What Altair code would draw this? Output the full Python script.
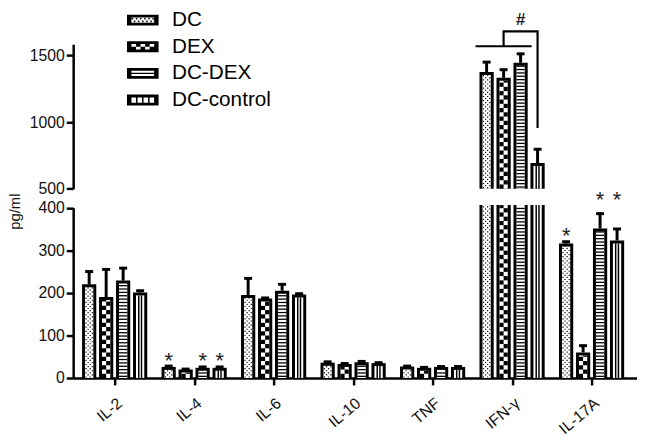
import altair as alt
import pandas as pd

# ---------------- data ----------------
categories = ["IL-2", "IL-4", "IL-6", "IL-10", "TNF", "IFN-γ", "IL-17A"]
groups = ["DC", "DEX", "DC-DEX", "DC-control"]

# mean values (pg/ml), category order
dc_mean = [220, 26, 195, 36, 27, 1376, 316]
dex_mean = [190, 20, 187, 33, 24, 1332, 60]
dcdex_mean = [229, 24, 205, 37, 26, 1445, 351]
ctrl_mean = [201, 24, 196, 35, 26, 693, 323]

# top of the error bars (mean + SD)
dc_top = [250, 28, 234, 38, 28, 1450, 320]
dex_top = [255, 21, 188, 34, 25, 1393, 76]
dcdex_top = [258, 26, 220, 39, 27, 1512, 386]
ctrl_top = [205, 26, 198, 36, 27, 796, 350]

# significance asterisks
star_cat = ["IL-4", "IL-4", "IL-4", "IL-17A", "IL-17A", "IL-17A"]
star_grp = ["DC", "DC-DEX", "DC-control", "DC", "DC-DEX", "DC-control"]
star_y = [51, 51, 51, 344, 429, 429]

# "#" bracket on IFN-γ
bracket_cat = "IFN-γ"
span_grp = ["DC", "DC-DEX"]
span_y = 1569
bracket_grp = ["DEX", "DEX", "DC-control", "DC-control"]
bracket_y = [1569, 1680, 1680, 956]
hash_y = 1769

rows = []
for gi, (grp, means, tops) in enumerate(zip(
        groups, [dc_mean, dex_mean, dcdex_mean, ctrl_mean],
        [dc_top, dex_top, dcdex_top, ctrl_top])):
    for ci, cat in enumerate(categories):
        rows.append({"cat": cat, "ci": ci, "grp": grp, "gi": gi,
                     "val": means[ci], "top": tops[ci]})
bars = pd.DataFrame(rows)

stars = pd.DataFrame({
    "ci": [categories.index(c) for c in star_cat],
    "gi": [groups.index(g) for g in star_grp],
    "y": star_y,
})
ifn = categories.index(bracket_cat)
bracket = pd.DataFrame({
    "ci": [ifn] * len(bracket_grp),
    "gi": [groups.index(g) for g in bracket_grp],
    "y": bracket_y,
    "k": list(range(len(bracket_grp))),
})
span = pd.DataFrame({"ci": [ifn], "g0": [groups.index(span_grp[0])],
                     "g1": [groups.index(span_grp[1])], "y": [span_y]})
hashd = pd.DataFrame({"ci": [ifn], "g0": [groups.index(bracket_grp[0])],
                      "g1": [groups.index(bracket_grp[-1])], "y": [hash_y]})

# ---------------- layout / style ----------------
FONT = "Liberation Sans"
X_DOMAIN = [-0.5218, 6.5714]
P = 0.2137    # pitch between bars of a group (x units)
HO = 0.0894   # outer half width
HI = 0.0522   # inner half width
HC = 0.05     # error cap half width
CUT = 406     # top of lower segment for broken bars

XS = alt.Scale(domain=X_DOMAIN, nice=False, zero=False)
Y_LO = alt.Scale(domain=[0, 400], range=[338, 165.5], nice=False, zero=False)
Y_HI = alt.Scale(domain=[500, 1584], range=[146.3, 0], nice=False, zero=False)

label_expr = " : ".join(f"datum.value == {i} ? '{c}'" for i, c in enumerate(categories)) + " : ''"

x_axis = alt.Axis(
    values=list(range(len(categories))),
    labelExpr=label_expr,
    title=None, labelAngle=-40, labelAlign="right", labelBaseline="middle",
    labelPadding=16, labelOffset=5, labelFont=FONT, labelFontSize=16,
    labelColor="#111", labelOverlap=False, labelBound=False,
    domainWidth=2.5, domainColor="black", tickWidth=2.5, tickSize=7,
    tickColor="black", grid=False)

common_y = dict(orient="left", format="d", labelFont=FONT, labelFontSize=16,
                labelColor="#111", labelPadding=2, tickSize=7, tickWidth=2.5,
                tickColor="black", domainWidth=2.5, domainColor="black", grid=False)
y_axis_lo = alt.Axis(values=[0, 100, 200, 300, 400], title="pg/ml", titleX=-59,
                     titleY=169, titleAngle=270, titleBaseline="middle",
                     titleAlign="center", titleFont=FONT, titleFontSize=15,
                     titleFontWeight="normal", titleColor="#111", **common_y)
y_axis_hi = alt.Axis(values=[500, 1000, 1500], title=None, **common_y)


def hole(x0, y0, x1, y1):
    # counter-clockwise rectangle -> punches a hole (nonzero rule)
    return f"M{x0:.3f},{y0:.3f}V{y1:.3f}H{x1:.3f}V{y0:.3f}Z"


def solid(x0, y0, x1, y1):
    # clockwise rectangle -> filled
    return f"M{x0:.3f},{y0:.3f}H{x1:.3f}V{y1:.3f}H{x0:.3f}Z"


OX, OY, IX, IY = 1.6, 0.55, 1.15, 0.27
OUTER = solid(-OX, -OY, OX, OY)
IN_W = 2 * IX
dc_path = OUTER + hole(-IX, -IY, IX, IY) + "".join(
    solid(-IX + c * IN_W / 11 + 0.03, -IY + r * IY + 0.05,
          -IX + (c + 1) * IN_W / 11 - 0.03, -IY + (r + 1) * IY - 0.05)
    for r in range(2) for c in range(11) if (r + c) % 2 == 0)
dex_path = OUTER + "".join(
    hole(-IX + c * IN_W / 5, -IY + r * IY, -IX + (c + 1) * IN_W / 5, -IY + (r + 1) * IY)
    for r in range(2) for c in range(5) if (r + c) % 2 == 0)
dcdex_path = OUTER + hole(-IX, -IY, IX, -0.06) + hole(-IX, 0.06, IX, IY)
cw = (IN_W - 3 * 0.15) / 4
ctrl_path = OUTER + "".join(hole(-IX + i * (cw + 0.15), -IY, -IX + i * (cw + 0.15) + cw, IY)
                            for i in range(4))
paths = [dc_path, dex_path, dcdex_path, ctrl_path]

legend = alt.Legend(
    title=None, orient="none", legendX=60, legendY=-35, padding=0,
    symbolSize=400, symbolStrokeWidth=0, symbolOpacity=1,
    symbolFillColor="black",
    labelFont=FONT, labelFontSize=21, labelColor="black", labelOffset=19,
    rowPadding=5,
)


def X(f):
    return alt.X(f"{f}:Q", scale=XS, axis=x_axis)


def panel(upper):
    ppu = 0.135 if upper else 0.43125
    ys = Y_HI if upper else Y_LO
    bd = 3.0 / ppu

    def Y(f, axis=None):
        return alt.Y(f"{f}:Q", scale=ys, axis=axis)

    base = alt.Chart(bars)
    if upper:
        base = base.transform_filter("datum.val > 500").transform_calculate(
            ob="500", ot="datum.val", ib="500", it=f"datum.val - {bd:.3f}")
    else:
        base = base.transform_calculate(
            ob="0", ot=f"min(datum.val, {CUT})", ib="0",
            it=f"datum.val > {CUT} ? {CUT} : datum.val - {bd:.3f}")
    base = base.transform_calculate(
        xc=f"datum.ci + (datum.gi - 1.5) * {P}",
        xo0=f"datum.xc - {HO}", xo1=f"datum.xc + {HO}",
        xi0=f"datum.xc - {HI}", xi1=f"datum.xc + {HI}",
        w="datum.xi1 - datum.xi0")

    outer = base.mark_rect(color="black").encode(
        x=X("xo0"), x2="xo1",
        y=Y("ob", y_axis_hi if upper else y_axis_lo), y2="ot")

    inner = base.mark_rect(color="white").encode(
        x=X("xi0"), x2="xi1", y=Y("ib"), y2="it")

    # DC: fine dotted (small black dots in checker order)
    ch = 2.1 / ppu
    dot = 0.22
    dc = (base.transform_filter("datum.gi == 0")
          .transform_calculate(rr=f"sequence(0, max(0, ceil((datum.it - datum.ib) / {ch:.4f})))")
          .transform_flatten(["rr"])
          .transform_calculate(cc="sequence(0, 4)")
          .transform_flatten(["cc"])
          .transform_filter("(datum.rr + datum.cc) % 2 == 0")
          .transform_calculate(
              cx0=f"datum.xi0 + (datum.cc + {dot}) * datum.w / 4",
              cx1=f"datum.xi0 + (datum.cc + 1 - {dot}) * datum.w / 4",
              cy0=f"datum.ib + (datum.rr + {dot}) * {ch:.4f}",
              cy1=f"min(datum.ib + (datum.rr + 1 - {dot}) * {ch:.4f}, datum.it)")
          .transform_filter("datum.cy1 > datum.cy0")
          .mark_rect(color="black")
          .encode(x=X("cx0"), x2="cx1", y=Y("cy0"), y2="cy1"))

    # DEX: coarse checker
    ch2 = 4.3 / ppu
    dex = (base.transform_filter("datum.gi == 1")
           .transform_calculate(rr=f"sequence(0, max(0, ceil((datum.it - datum.ib) / {ch2:.4f})))")
           .transform_flatten(["rr"])
           .transform_calculate(cc="sequence(0, 2)")
           .transform_flatten(["cc"])
           .transform_filter("(datum.rr + datum.cc) % 2 == 0")
           .transform_calculate(
               cx0="datum.xi0 + datum.cc * datum.w / 2",
               cx1="datum.xi0 + (datum.cc + 1) * datum.w / 2",
               cy0=f"datum.ib + datum.rr * {ch2:.4f}",
               cy1=f"min(datum.ib + (datum.rr + 1) * {ch2:.4f}, datum.it)")
           .mark_rect(color="black")
           .encode(x=X("cx0"), x2="cx1", y=Y("cy0"), y2="cy1"))

    # DC-DEX: horizontal stripes
    ch3 = 3.4 / ppu
    dcdex = (base.transform_filter("datum.gi == 2")
             .transform_calculate(rr=f"sequence(0, max(0, ceil((datum.it - datum.ib) / {ch3:.4f})))")
             .transform_flatten(["rr"])
             .transform_calculate(ly=f"datum.ib + (datum.rr + 0.5) * {ch3:.4f}")
             .transform_filter("datum.ly < datum.it")
             .mark_rule(color="black", strokeWidth=1.3)
             .encode(x=X("xi0"), x2="xi1", y=Y("ly")))

    # DC-control: vertical stripes
    ctrl = (base.transform_filter("datum.gi == 3")
            .transform_calculate(kk="sequence(1, 3)")
            .transform_flatten(["kk"])
            .transform_calculate(lx="datum.xi0 + datum.kk * datum.w / 3")
            .mark_rule(color="black", strokeWidth=1.5)
            .encode(x=X("lx"), y=Y("ib"), y2="it"))

    err = base.transform_filter("datum.val > 500" if upper else "datum.val < 500")
    stem = err.mark_rule(color="black", strokeWidth=3).encode(
        x=X("xc"), y=Y("val"), y2="top")
    cap = (err.transform_calculate(e0=f"datum.xc - {HC}", e1=f"datum.xc + {HC}")
           .mark_rule(color="black", strokeWidth=3)
           .encode(x=X("e0"), x2="e1", y=Y("top")))

    layers = [outer, inner, dc, dex, dcdex, ctrl, stem, cap]

    if not upper:
        # zero-size points that only carry the patterned legend
        key = base.mark_point(filled=True, size=0, opacity=1, color="black").encode(
            x=X("xc"), y=Y("val"),
            shape=alt.Shape("grp:N", scale=alt.Scale(domain=groups, range=paths),
                            legend=legend))
        star_layer = (alt.Chart(stars)
                      .transform_calculate(sx=f"datum.ci + (datum.gi - 1.5) * {P}")
                      .mark_text(text="*", font=FONT, fontSize=22, color="#222", dy=5)
                      .encode(x=X("sx"), y=Y("y")))
        layers += [key, star_layer]
    else:
        span_layer = (alt.Chart(span)
                      .transform_calculate(
                          s0=f"datum.ci + (datum.g0 - 1.5) * {P} - {HO} - 0.05",
                          s1=f"datum.ci + (datum.g1 - 1.5) * {P} + {HO} + 0.05")
                      .mark_rule(color="black", strokeWidth=2.2)
                      .encode(x=X("s0"), x2="s1", y=Y("y")))
        br_layer = (alt.Chart(bracket)
                    .transform_calculate(bx=f"datum.ci + (datum.gi - 1.5) * {P}")
                    .mark_line(color="black", strokeWidth=2.2, strokeJoin="miter")
                    .encode(x=X("bx"), y=Y("y"), order="k:Q"))
        hash_layer = (alt.Chart(hashd)
                      .transform_calculate(
                          hx=f"datum.ci + ((datum.g0 + datum.g1) / 2 - 1.5) * {P}")
                      .mark_text(text="#", font=FONT, fontSize=17, fontWeight="bold",
                                 color="#222")
                      .encode(x=X("hx"), y=Y("y")))
        layers += [span_layer, br_layer, hash_layer]

    return layers


chart = (
    alt.layer(*(panel(False) + panel(True)))
    .resolve_scale(y="independent")
    .properties(width=571, height=338,
                padding={"left": 66, "top": 34, "right": 0, "bottom": 55},
                autosize=alt.AutoSizeParams(type="none"))
    .configure_view(stroke=None)
)

chart.save("out.html", embed_options={"renderer": "svg", "actions": False})
